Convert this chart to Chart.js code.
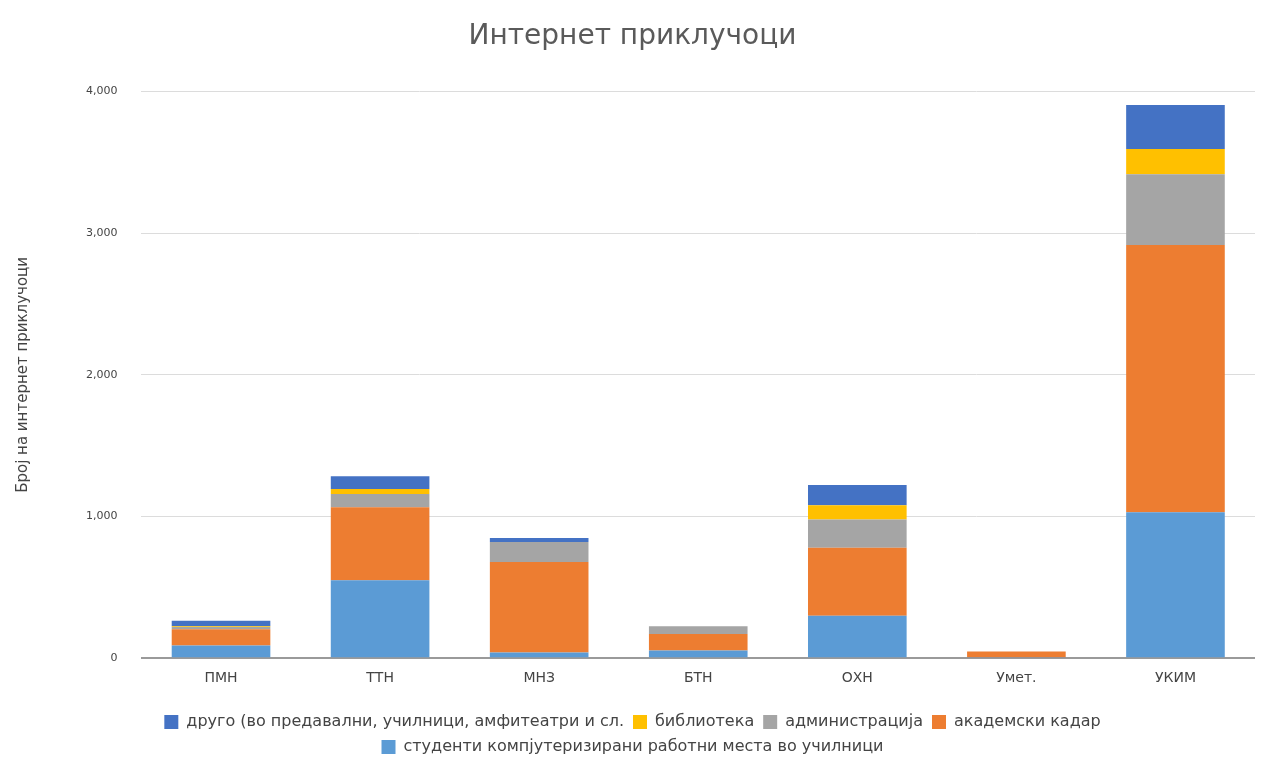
<!DOCTYPE html>
<html>
<head>
<meta charset="utf-8">
<script src="https://cdn.jsdelivr.net/npm/chart.js@4"></script>
<style>
	body { margin: 0; background: #fff; }
	#wrap { width: 1267px; height: 765px; position: relative; }
</style>
</head>
<body>
<div id="wrap"><canvas id="myChart"></canvas></div>
<script>
// категории (факултети)
const categories = ['ПМН', 'ТТН', 'МНЗ', 'БТН', 'ОХН', 'Умет.', 'УКИМ'];

// серии - од дното кон врвот на столбот
const studenti = [90, 550, 40, 55, 300, 3, 1030];
const akademski = [115, 515, 640, 115, 480, 45, 1887];
const administracija = [15, 95, 140, 55, 200, 0, 500];
const biblioteka = [5, 35, 0, 0, 100, 0, 177];
const drugo = [40, 90, 28, 0, 143, 0, 311];

const yTicks = [0, 1000, 2000, 3000, 4000];

const FONT = 'DejaVu Sans';

document.addEventListener('DOMContentLoaded', function() {
	const ctx = document.getElementById('myChart');

	window.myChart = new Chart(ctx, {
		type: 'bar',
		data: {
			labels: categories,
			datasets: [
				{ label: 'студенти компјутеризирани работни места во училници', data: studenti, backgroundColor: '#5B9BD5' },
				{ label: 'академски кадар', data: akademski, backgroundColor: '#ED7D31' },
				{ label: 'администрација', data: administracija, backgroundColor: '#A5A5A5' },
				{ label: 'библиотека', data: biblioteka, backgroundColor: '#FFC000' },
				{ label: 'друго (во предавални, училници, амфитеатри и сл.', data: drugo, backgroundColor: '#4472C4' }
			]
		},
		options: {
			responsive: true,
			maintainAspectRatio: false,
			animation: false,
			locale: 'en-US',
			datasets: {
				bar: { barPercentage: 0.62, categoryPercentage: 1 }
			},
			layout: { padding: { top: 10, left: 10, right: 12, bottom: 0 } },
			scales: {
				x: {
					stacked: true,
					grid: { display: false },
					border: { display: false },
					ticks: {
						color: '#444',
						padding: 4,
						font: { family: FONT, size: 14 }
					},
					// малку празен простор помеѓу оската и легендата
					afterFit: function(scale) {
						scale.height += 14;
					}
				},
				y: {
					stacked: true,
					min: 0,
					max: 4000,
					afterBuildTicks: function(axis) {
						axis.ticks = yTicks.map(function(v) { return { value: v }; });
					},
					border: { display: false },
					grid: {
						drawTicks: false,
						color: function(c) { return c.tick && c.tick.value === 0 ? '#9a9a9a' : '#dcdcdc'; },
						lineWidth: function(c) { return c.tick && c.tick.value === 0 ? 2 : 1; }
					},
					ticks: {
						color: '#444',
						padding: 24,
						font: { family: FONT, size: 11 }
					},
					title: {
						display: true,
						text: 'Броj на интернет приклучоци',
						color: '#444',
						padding: { bottom: 30 },
						font: { family: FONT, size: 15 }
					}
				}
			},
			plugins: {
				title: {
					display: true,
					text: 'Интернет приклучоци',
					color: '#5a5a5a',
					padding: { top: 10, bottom: 38 },
					font: { family: FONT, size: 28, weight: 'normal' }
				},
				legend: {
					position: 'bottom',
					reverse: true,
					labels: {
						color: '#444',
						boxWidth: 14,
						boxHeight: 14,
						padding: 9,
						font: { family: FONT, size: 16 }
					}
				},
				tooltip: { enabled: false }
			}
		}
	});
});
</script>
</body>
</html>
